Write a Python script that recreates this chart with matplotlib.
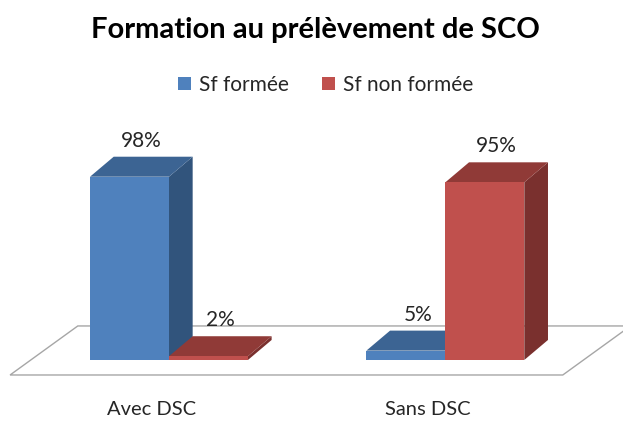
import matplotlib.pyplot as plt
from matplotlib.patches import Polygon, Patch

# Données
categories = ['Avec DSC', 'Sans DSC']
series = ['Sf formée', 'Sf non formée']
formee = [98, 5]
non_formee = [2, 95]
values = [formee, non_formee]

front_colors = ['#4F81BD', '#C0504D']
top_colors = ['#3C6493', '#903A37']
side_colors = ['#31547C', '#7A302E']

plt.rcParams['font.family'] = ['Lato', 'DejaVu Sans']

fig = plt.figure(figsize=(6.23, 4.23), dpi=100)
ax = fig.add_axes([0, 0, 1, 1])
ax.set_xlim(-0.39, 7.5)
ax.set_ylim(-33.7, 192.5)
ax.axis('off')

# profondeur 3D (unités de données)
ddx, ddy = 0.30, 10.7
bw = 1.0
gap = 1.5
span = len(series) * bw + gap

def shift(x, y, d, kx=ddx):
    return (x + d * kx, y + d * ddy)

# sol
d_front, d_back = -0.75, 1.7
fkx = 0.35
x0, x1 = 0, span * len(categories)
floor = [shift(x0, 0, d_front, fkx), shift(x1, 0, d_front, fkx),
         shift(x1, 0, d_back, fkx), shift(x0, 0, d_back, fkx)]
ax.add_patch(Polygon(floor, closed=True, facecolor='white',
                     edgecolor='#A6A6A6', lw=1.0, zorder=1))

z = 2
for i, cat in enumerate(categories):
    for j in range(len(series)):
        v = values[j][i]
        left = i * span + gap / 2 + j * bw
        right = left + bw
        front = [(left, 0), (right, 0), (right, v), (left, v)]
        top = [(left, v), (right, v), shift(right, v, 1), shift(left, v, 1)]
        side = [(right, 0), shift(right, 0, 1), shift(right, v, 1), (right, v)]
        ax.add_patch(Polygon(side, closed=True, facecolor=side_colors[j],
                             edgecolor='none', zorder=z))
        ax.add_patch(Polygon(top, closed=True, facecolor=top_colors[j],
                             edgecolor='none', zorder=z))
        ax.add_patch(Polygon(front, closed=True, facecolor=front_colors[j],
                             edgecolor='none', zorder=z))
        z += 1
        lx, ly = shift((left + right) / 2, v, 0.5)
        ax.text(lx, ly + ddy / 2 + 8.5, f'{v}%', ha='center', va='center',
                fontsize=15, color='#262626', zorder=20)
    cx, cy = shift(i * span + span / 2, 0, d_front)
    ax.text(cx, cy - 18.5, cat, ha='center', va='center',
            fontsize=14.5, color='#262626')

fig.text(0.507, 0.928, 'Formation au prélèvement de SCO', ha='center',
         va='center', fontsize=21, fontweight='bold', color='black')

handles = [Patch(facecolor=c, edgecolor='none') for c in front_colors]
fig.legend(handles, series, loc='center', bbox_to_anchor=(0.523, 0.80),
           ncol=2, frameon=False, fontsize=15, handlelength=0.6,
           handleheight=0.6, handletextpad=0.4, columnspacing=1.6,
           labelcolor='#262626')

fig.savefig('out.png', dpi=100)
